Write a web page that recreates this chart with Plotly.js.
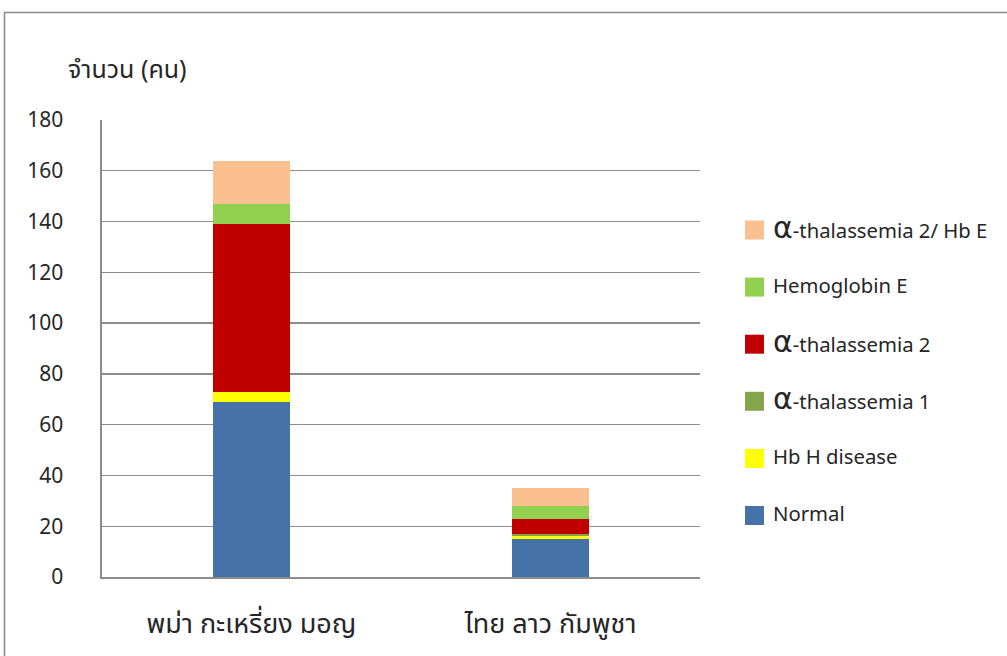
<!DOCTYPE html>
<html>
<head>
<meta charset="utf-8">
<script src="https://cdn.plot.ly/plotly-3.0.1.min.js"></script>
<style>
  html, body { margin: 0; padding: 0; background: #fff; }
  #chart { width: 1007px; height: 656px; }
</style>
</head>
<body>
<div id="chart"></div>
<script>
// Groups shown on the x axis
const categories = ['พม่า กะเหรี่ยง มอญ', 'ไทย ลาว กัมพูชา'];

// Number of people per result, stacked bottom to top
const normal     = [69, 15];
const hbH        = [4, 1];
const aThal1     = [0, 1];
const aThal2     = [66, 6];
const hbE        = [8, 5];
const aThal2HbE  = [17, 7];

const seriesNames = ['Normal', 'Hb H disease', 'α-thalassemia 1', 'α-thalassemia 2', 'Hemoglobin E', 'α-thalassemia 2/ Hb E'];
const seriesValues = [normal, hbH, aThal1, aThal2, hbE, aThal2HbE];
const seriesColors = ['#4572A7', '#FFFF00', '#86A44A', '#C00000', '#92D050', '#FAC090'];

const yTickVals = [0, 20, 40, 60, 80, 100, 120, 140, 160, 180];

const W = 1007, H = 656;
const M = { l: 102, r: 307, t: 120, b: 79 };
const PW = W - M.l - M.r, PH = H - M.t - M.b;
const px = x => (x - M.l) / PW;        // pixel -> paper x
const py = y => (H - M.b - y) / PH;    // pixel -> paper y

const thaiFont = 'Noto Sans Thai, Tahoma, DejaVu Sans, sans-serif';
const textColor = '#262626';
const gridColor = '#8c8c8c';

const traces = seriesNames.map((name, i) => ({
  type: 'bar',
  name: name,
  x: categories,
  y: seriesValues[i],
  marker: { color: seriesColors[i], line: { width: 0 } },
  hoverinfo: 'x+y+name'
}));

// Legend drawn as swatches + labels, top entry = last series
const shapes = [];
const annotations = [];
const legendTop = 230, legendStep = 57.1;
for (let k = 0; k < seriesNames.length; k++) {
  const i = seriesNames.length - 1 - k;
  const cy = legendTop + k * legendStep;
  shapes.push({
    type: 'rect', xref: 'paper', yref: 'paper',
    x0: px(745), x1: px(764), y0: py(cy + 9.5), y1: py(cy - 9.5),
    fillcolor: seriesColors[i], line: { width: 0 }
  });
  const label = seriesNames[i].replace('α', '<span style="font-size:30px">α</span>');
  annotations.push({
    xref: 'paper', yref: 'paper', x: px(771), y: py(cy - 1), xanchor: 'left', yanchor: 'middle',
    text: label, showarrow: false,
    font: { family: thaiFont, size: 20.3, color: textColor }
  });
}

// Outer frame
shapes.push({
  type: 'rect', xref: 'paper', yref: 'paper', layer: 'below',
  x0: px(4.5), x1: px(1020), y0: py(700), y1: py(12.5),
  line: { color: '#8c8c8c', width: 1.6 }, fillcolor: 'rgba(0,0,0,0)'
});

// Y axis caption
annotations.push({
  xref: 'paper', yref: 'paper', x: px(66), y: py(70), xanchor: 'left', yanchor: 'middle',
  text: 'จำนวน (คน)', showarrow: false,
  font: { family: thaiFont, size: 25, color: textColor }
});

const layout = {
  width: W, height: H,
  margin: M,
  paper_bgcolor: '#ffffff', plot_bgcolor: '#ffffff',
  barmode: 'stack',
  bargap: 0.742,
  showlegend: false,
  font: { family: thaiFont, color: textColor },
  xaxis: {
    type: 'category',
    showline: true, linecolor: gridColor, linewidth: 2,
    ticks: '', showgrid: false,
    ticklabelstandoff: 22,
    tickfont: { family: thaiFont, size: 27, color: textColor },
    fixedrange: true
  },
  yaxis: {
    range: [0, 180],
    tickvals: yTickVals,
    ticktext: yTickVals.map(String),
    showgrid: true, gridcolor: gridColor, gridwidth: 1.3,
    showline: true, linecolor: gridColor, linewidth: 1.6,
    zeroline: false,
    ticks: '',
    ticklabelstandoff: 33,
    tickfont: { family: thaiFont, size: 21, color: textColor },
    fixedrange: true
  },
  shapes: shapes,
  annotations: annotations
};

Plotly.newPlot('chart', traces, layout, { displayModeBar: false, staticPlot: true });
</script>
</body>
</html>
